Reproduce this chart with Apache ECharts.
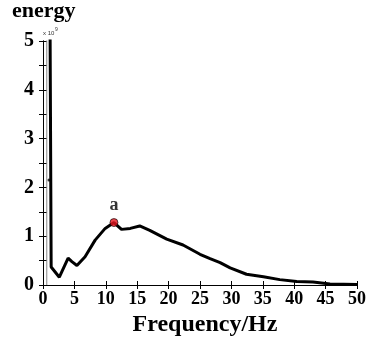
<!DOCTYPE html>
<html>
<head>
<meta charset="utf-8">
<script src="https://cdn.jsdelivr.net/npm/echarts@6/dist/echarts.min.js"></script>
<style>
  html, body { margin: 0; padding: 0; background: #fff; }
  #chart { width: 371px; height: 342px; }
</style>
</head>
<body>
<div id="chart"></div>
<script>
// energy spectrum (units of 1e9), frequency in Hz
const freq = [1.1, 1.3, 2.6, 4.0, 4.6, 5.4, 6.7, 8.3, 9.9, 11.3, 12.5, 13.9, 15.4, 17.0, 19.7, 22.3, 25.0, 26.6, 28.2, 29.8, 32.4, 35.1, 37.7, 40.4, 43.0, 45.7, 50.0]
const energy = [6.0, 0.37, 0.16, 0.55, 0.48, 0.40, 0.58, 0.92, 1.16, 1.28, 1.14, 1.16, 1.21, 1.12, 0.94, 0.82, 0.63, 0.54, 0.46, 0.35, 0.22, 0.17, 0.11, 0.07, 0.06, 0.02, 0.01]
// thin grey marker line near the origin
const greyLine = [[0.6, 0], [0.6, 6]]
// small marker on the spike
const spikeMark = [[0.95, 2.15]]
// highlighted point
const pointA = [[11.3, 1.28]]

const serif = 'Liberation Serif'
const chart = echarts.init(document.getElementById('chart'))

const axisLine = { show: true, lineStyle: { color: '#000', width: 1 } }
const tick = { inside: true, length: 4, lineStyle: { color: '#000' } }
const option = {
  animation: false,
  title: {
    text: 'energy',
    left: 12, top: 0, padding: 0,
    textStyle: { fontFamily: serif, fontWeight: 'bold', fontSize: 22, color: '#000' }
  },
  graphic: [{
    type: 'text', left: 43, top: 30,
    style: { text: 'x 10', fontSize: 6, fontFamily: 'Liberation Sans', fill: '#333' }
  }, {
    type: 'text', left: 55, top: 27,
    style: { text: '9', fontSize: 5, fontFamily: 'Liberation Sans', fill: '#333' }
  }],
  grid: { left: 43, right: 14, top: 41, bottom: 55 },
  xAxis: [{
    type: 'value', min: 0, max: 50, interval: 5,
    axisLine, axisTick: tick,
    axisLabel: { fontFamily: serif, fontWeight: 'bold', fontSize: 18, color: '#000', margin: 5 },
    splitLine: { show: false },
    name: 'Frequency/Hz', nameLocation: 'middle', nameGap: 28,
    nameTextStyle: { fontFamily: serif, fontWeight: 'bold', fontSize: 24, color: '#000', padding: [0, 0, 0, 10] }
  }, {
    type: 'value', position: 'top', min: 0, max: 50, interval: 5,
    axisLine, axisTick: tick,
    axisLabel: { show: false }, splitLine: { show: false }
  }],
  yAxis: [{
    type: 'value', min: 0, max: 5, interval: 0.5,
    axisLine, axisTick: tick,
    axisLabel: {
      fontFamily: serif, fontWeight: 'bold', fontSize: 20, color: '#000', margin: 9,
      padding: [10, 0, 0, 0],
      formatter: v => (Number.isInteger(v) ? String(v) : '')
    },
    splitLine: { show: false }
  }, {
    type: 'value', position: 'right', min: 0, max: 5, interval: 0.5,
    axisLine, axisTick: tick,
    axisLabel: { show: false }, splitLine: { show: false }
  }],
  series: [{
    type: 'line',
    data: greyLine,
    symbol: 'none',
    lineStyle: { color: '#888', width: 1 },
    silent: true
  }, {
    type: 'line',
    data: freq.map((f, i) => [f, energy[i]]),
    symbol: 'none',
    lineStyle: { color: '#000', width: 3 },
    clip: true
  }, {
    type: 'scatter',
    data: spikeMark,
    symbol: 'circle', symbolSize: 3,
    itemStyle: { color: '#000' }
  }, {
    type: 'scatter',
    data: pointA,
    symbol: 'circle', symbolSize: 8,
    itemStyle: { color: '#e8141e', borderColor: '#000', borderWidth: 0.8 },
    label: {
      show: true, position: 'top', distance: 4,
      formatter: 'a',
      fontFamily: serif, fontWeight: 'bold', fontSize: 18, color: '#000'
    },
    z: 5
  }]
}
chart.setOption(option)
</script>
</body>
</html>
